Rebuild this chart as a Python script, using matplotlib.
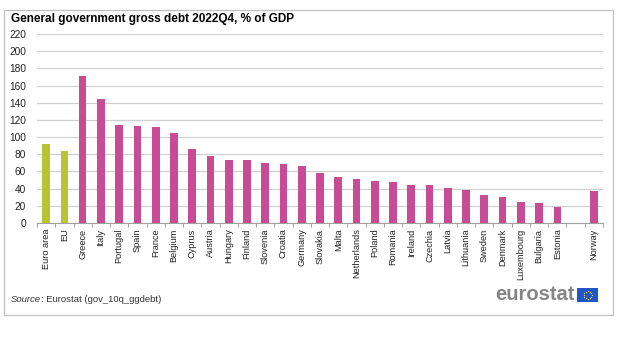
import numpy as np
import matplotlib
matplotlib.use('Agg')
import matplotlib.pyplot as plt
from matplotlib.patches import Rectangle

plt.rcParams['font.family'] = ['Liberation Sans', 'DejaVu Sans']

# Données
countries = ['Euro area', 'EU', 'Greece', 'Italy', 'Portugal', 'Spain', 'France',
             'Belgium', 'Cyprus', 'Austria', 'Hungary', 'Finland', 'Slovenia',
             'Croatia', 'Germany', 'Slovakia', 'Malta', 'Netherlands', 'Poland',
             'Romania', 'Ireland', 'Czechia', 'Latvia', 'Lithuania', 'Sweden',
             'Denmark', 'Luxembourg', 'Bulgaria', 'Estonia', '', 'Norway']
debt = [91.5, 84.0, 171.3, 144.4, 113.9, 113.2, 111.6, 105.1, 86.5, 78.4,
        73.3, 73.0, 69.9, 68.4, 66.3, 57.8, 53.4, 51.0, 49.1, 47.3, 44.7,
        44.1, 41.0, 38.4, 33.0, 29.8, 24.6, 22.9, 18.4, np.nan, 37.4]
aggregates = ['Euro area', 'EU']

GREEN = '#b8c430'
MAGENTA = '#c84b96'

W, H = 619, 358
fig = plt.figure(figsize=(W / 100, H / 100), dpi=100)

# cadre gris
fig.patches.append(Rectangle((4 / W, 1 - 315 / H), 609 / W, 305 / H,
                             transform=fig.transFigure, fill=False,
                             edgecolor='#c0c0c0', linewidth=0.9))

ax = fig.add_axes([37 / W, 1 - 223 / H, 566 / W, 189 / H])
x = np.arange(len(countries))
colors = [GREEN if c in aggregates else MAGENTA for c in countries]
ax.bar(x, debt, width=0.42, color=colors, zorder=3)

ax.set_ylim(0, 220)
ax.set_yticks(np.arange(0, 221, 20))
ax.set_xlim(-0.5, len(countries) - 0.5)
ax.yaxis.grid(True, color='#d0d0d0', linewidth=0.9, zorder=0)
ax.tick_params(axis='y', length=0, labelsize=7.3, pad=8, labelcolor='#222222')

ax.set_xticks(x)
ax.set_xticklabels(countries, rotation=90, fontsize=6.6, color='#222222')
ax.tick_params(axis='x', length=0, pad=4)
ax.set_xticks(np.arange(-0.5, len(countries), 1), minor=True)
ax.tick_params(axis='x', which='minor', length=3, color='#a0a0a0', width=0.7)

for s in ['top', 'right', 'left']:
    ax.spines[s].set_visible(False)
ax.spines['bottom'].set_color('#a0a0a0')
ax.spines['bottom'].set_linewidth(0.8)

fig.text(11 / W, 1 - 19 / H, 'General government gross debt 2022Q4, % of GDP',
         fontsize=8.5, fontweight='bold', va='center', ha='left')

src = fig.text(11 / W, 1 - 300 / H, 'Source', fontstyle='italic', fontsize=6.8,
               va='center', ha='left', color='#333333')
ax.annotate(': Eurostat (gov_10q_ggdebt)', xy=(1, 0.5), xycoords=src,
            fontsize=6.8, va='center', ha='left', color='#333333',
            annotation_clip=False)

# logo eurostat
fig.text(575 / W, 1 - 295 / H, 'eurostat', fontsize=14.5, fontweight='bold',
         color='#858585', va='center', ha='right')
fig.patches.append(Rectangle((577 / W, 1 - 302 / H), 21 / W, 14 / H,
                             transform=fig.transFigure, facecolor='#2255c8',
                             edgecolor='none'))
ang = np.linspace(0, 2 * np.pi, 12, endpoint=False)
fig.add_artist(plt.Line2D((587.5 + 4 * np.cos(ang)) / W,
                          (1 - 295 / H) + 4 * np.sin(ang) / H,
                          linestyle='none', marker='o', markersize=0.9,
                          color='#e8d84a', markeredgewidth=0,
                          transform=fig.transFigure))

fig.savefig('out.png', dpi=100)
